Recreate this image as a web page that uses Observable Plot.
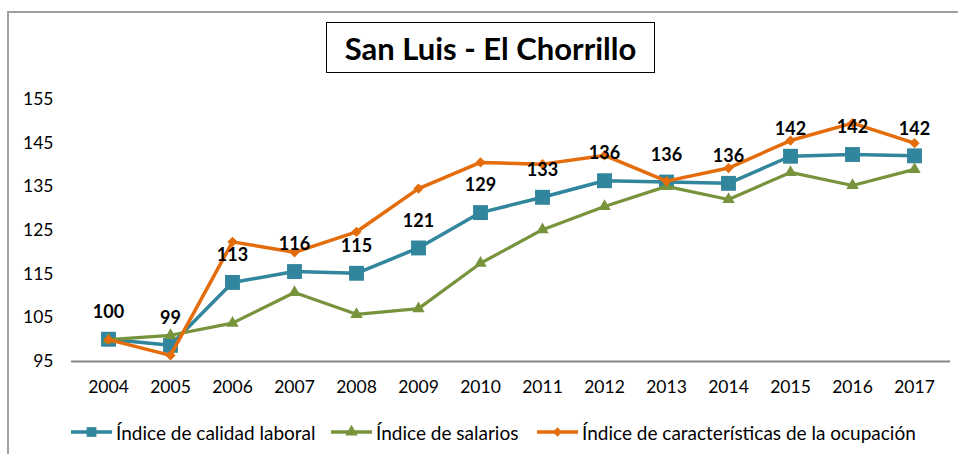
<!DOCTYPE html>
<html>
<head>
<meta charset="utf-8">
<script src="https://cdn.jsdelivr.net/npm/d3@7"></script>
<script src="https://cdn.jsdelivr.net/npm/@observablehq/plot@0.6"></script>
<style>
  html, body { margin: 0; padding: 0; background: #fff; }
  #wrap { position: relative; width: 958px; height: 454px; overflow: hidden; font-family: Lato, "Open Sans", sans-serif; }
  #frame { position: absolute; left: 7px; top: 11px; width: 1000px; height: 600px; border-left: 2px solid #a0a0a0; border-top: 2px solid #a0a0a0; }
  #title { position: absolute; left: 326px; top: 22px; width: 327px; height: 49px; border: 1.5px solid #000; background: #fff;
           display: flex; align-items: center; justify-content: center; font-weight: bold; font-size: 31px; color: #000; white-space: nowrap; }
  #title span { display: inline-block; transform-origin: center; }
  #chart { position: absolute; left: 0; top: 0; }
  #legend { position: absolute; top: 420px; left: 0; height: 24px; font-size: 19px; color: #000; }
  .item { position: absolute; top: 0; display: flex; align-items: center; white-space: nowrap; height: 24px; }
  .item svg { margin-right: 3px; }
</style>
</head>
<body>
<div id="wrap">
  <div id="frame"></div>
  <div id="chart"></div>
  <div id="title"><span id="ttext">San Luis - El Chorrillo</span></div>
  <div id="legend"></div>
</div>
<script>
const years = ["2004","2005","2006","2007","2008","2009","2010","2011","2012","2013","2014","2015","2016","2017"];
const calidad = [100.1, 98.7, 113.1, 115.6, 115.2, 121.0, 129.1, 132.6, 136.4, 136.1, 135.8, 142.0, 142.4, 142.1];
const salarios = [100.0, 101.0, 103.8, 110.8, 105.8, 107.1, 117.5, 125.2, 130.5, 135.1, 132.1, 138.3, 135.3, 139.0];
const caracteristicas = [100.0, 96.4, 122.4, 120.0, 124.7, 134.6, 140.6, 140.2, 142.2, 136.3, 139.3, 145.6, 149.6, 145.0];
const yTicks = [95, 105, 115, 125, 135, 145, 155];
const seriesNames = ["Índice de calidad laboral", "Índice de salarios", "Índice de características de la ocupación"];
const colors = ["#31859C", "#77933C", "#E46C0A"];

const mk = (vals) => years.map((y, i) => ({year: y, value: vals[i]}));
const dCal = mk(calidad), dSal = mk(salarios), dCar = mk(caracteristicas);

const plot = Plot.plot({
  width: 958,
  height: 454,
  marginLeft: 71,
  marginRight: 8,
  marginTop: 99,
  marginBottom: 93,
  style: {fontFamily: "Lato, 'Open Sans', sans-serif", fontSize: "17.5px", color: "#000", background: "transparent"},
  x: {type: "point", domain: years, padding: 0.5, label: null, tickSize: 0, tickPadding: 19},
  y: {domain: [95, 155], ticks: yTicks, label: null, tickSize: 0, tickPadding: 18},
  marks: [
    Plot.ruleY([95], {stroke: "#868686", strokeWidth: 2}),
    Plot.line(dCal, {x: "year", y: "value", stroke: colors[0], strokeWidth: 3.5}),
    Plot.dot(dCal, {x: "year", y: "value", symbol: "square", r: 8.4, fill: colors[0], stroke: "none"}),
    Plot.line(dSal, {x: "year", y: "value", stroke: colors[1], strokeWidth: 3.2}),
    Plot.dot(dSal, {x: "year", y: "value", symbol: "triangle", r: 4.6, fill: colors[1], stroke: "none"}),
    Plot.line(dCar, {x: "year", y: "value", stroke: colors[2], strokeWidth: 3.5}),
    Plot.dot(dCar, {x: "year", y: "value", symbol: "diamond2", r: 4.6, fill: colors[2], stroke: "none"}),
    Plot.text(dCal, {x: "year", y: "value", text: d => d3.format(".0f")(d.value), dy: -27, fontWeight: "bold", fontSize: 18, fill: "#000"})
  ]
});
document.getElementById("chart").appendChild(plot);

// legend
const legendItems = [
  {x: 70, sym: "square", r: 5.5},
  {x: 330, sym: "triangle", r: 4.6},
  {x: 536, sym: "diamond2", r: 4.2}
];
const symMap = {square: d3.symbolSquare, triangle: d3.symbolTriangle, diamond2: d3.symbolDiamond2};
const leg = document.getElementById("legend");
legendItems.forEach((it, i) => {
  const div = document.createElement("div");
  div.className = "item";
  div.style.left = it.x + "px";
  const s = d3.create("svg").attr("width", 43).attr("height", 24);
  s.append("line").attr("x1", 1).attr("x2", 42).attr("y1", 12).attr("y2", 12).attr("stroke", colors[i]).attr("stroke-width", 3.5);
  s.append("path").attr("transform", "translate(21.5,12)").attr("d", d3.symbol(symMap[it.sym], it.r * it.r * Math.PI)()).attr("fill", colors[i]);
  div.appendChild(s.node());
  const t = document.createElement("span");
  t.textContent = seriesNames[i];
  div.appendChild(t);
  leg.appendChild(div);
});

// fit title text width
const tt = document.getElementById("ttext");
const w = tt.getBoundingClientRect().width;
const target = 302;
tt.style.transform = `scaleX(${Math.min(1, target / w)})`;
</script>
</body>
</html>
